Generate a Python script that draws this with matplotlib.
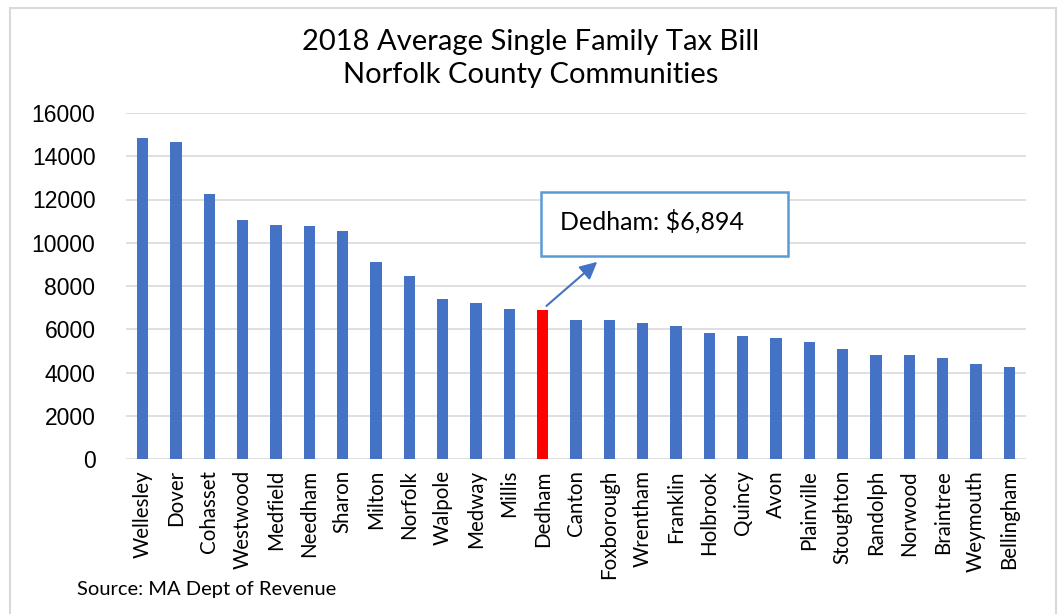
import matplotlib.pyplot as plt
from matplotlib.patches import Rectangle

# Average single family tax bill, 2018 (MA Dept of Revenue)
towns = ["Wellesley", "Dover", "Cohasset", "Westwood", "Medfield", "Needham",
         "Sharon", "Milton", "Norfolk", "Walpole", "Medway", "Millis", "Dedham",
         "Canton", "Foxborough", "Wrentham", "Franklin", "Holbrook", "Quincy",
         "Avon", "Plainville", "Stoughton", "Randolph", "Norwood", "Braintree",
         "Weymouth", "Bellingham"]
tax_bill = [14860, 14660, 12270, 11030, 10830, 10755, 10555, 9120, 8440, 7405,
            7205, 6925, 6894, 6449, 6440, 6310, 6171, 5833, 5694, 5617, 5417,
            5077, 4815, 4810, 4676, 4398, 4259]
highlight = "Dedham"

blue = "#4472C4"
colors = ["#FF0000" if t == highlight else blue for t in towns]

W, H = 1062, 614
fig = plt.figure(figsize=(W / 100, H / 100), dpi=100)
fig.patches.append(Rectangle((10 / W, -0.1), 1046 / W, 1.1 - 8 / H,
                             transform=fig.transFigure, fill=False,
                             edgecolor="#d9d9d9", linewidth=1.5))
ax = fig.add_axes([126 / W, 1 - 459 / H, 900 / W, 346 / H])

x = range(len(towns))
ax.bar(x, tax_bill, width=0.34, color=colors, zorder=3)
ax.set_xlim(-0.5, len(towns) - 0.5)
ax.set_ylim(0, 16000)
ax.set_yticks(range(0, 16001, 2000))
ax.set_xticks(list(x))
ax.set_xticklabels(towns, rotation=90, fontsize=14.8, family="Lato")
ax.tick_params(axis="y", labelsize=16.5, length=0, pad=22)
ax.tick_params(axis="x", length=0, pad=8)
for lbl in ax.get_yticklabels():
    lbl.set_family("Liberation Sans")
ax.grid(axis="y", color="#d9d9d9", linewidth=1.2, zorder=0)
for s in ax.spines.values():
    s.set_visible(False)

fig.text(0.5, 1 - 42 / H, "2018 Average Single Family Tax Bill",
         ha="center", va="center", fontsize=21, family="Lato")
fig.text(0.5, 1 - 75 / H, "Norfolk County Communities",
         ha="center", va="center", fontsize=21, family="Lato")
fig.text(77 / W, 1 - 590 / H, "Source: MA Dept of Revenue",
         ha="left", va="center", fontsize=14.5, family="Lato")

# callout for the highlighted town
i = towns.index(highlight)
ax.annotate("", xy=(i + 1.7, 9200), xytext=(i + 0.05, tax_bill[i] + 100),
            arrowprops=dict(arrowstyle="-|>", color=blue, lw=1.5,
                            mutation_scale=26), zorder=5)
fig.patches.append(Rectangle((541 / W, 1 - 256 / H), 247 / W, 64 / H,
                             transform=fig.transFigure, facecolor="white",
                             edgecolor="#5B9BD5", linewidth=1.8, zorder=6))
fig.text(560 / W, 1 - 221 / H, "Dedham: $6,894", fontsize=18, family="Lato",
         va="center", ha="left", zorder=7)

fig.savefig("out.png", dpi=100)
